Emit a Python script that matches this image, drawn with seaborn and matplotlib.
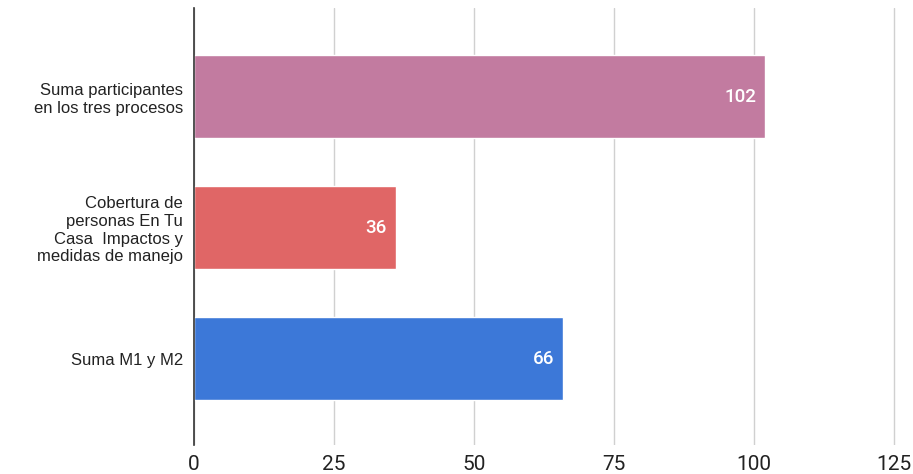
import matplotlib
matplotlib.use("Agg")
import matplotlib.pyplot as plt
import seaborn as sns
import pandas as pd

categories = [
    "Suma participantes\nen los tres procesos",
    "Cobertura de\npersonas En Tu\nCasa  Impactos y\nmedidas de manejo",
    "Suma M1 y M2",
]
values = [102, 36, 66]
colors = ["#c27ba0", "#e06666", "#3c78d8"]
x_ticks = [0, 25, 50, 75, 100, 125]

df = pd.DataFrame({"cat": categories, "val": values})

sns.set_theme(style="white")
plt.rcParams["font.family"] = ["Liberation Sans", "DejaVu Sans"]

fig = plt.figure(figsize=(9.13, 4.74), dpi=100)
ax = fig.add_axes([0.2125, 0.061, 0.77, 0.922])

sns.barplot(data=df, y="cat", x="val", hue="cat", palette=colors,
            orient="h", width=0.63, legend=False, ax=ax, saturation=1)

for i, v in enumerate(values):
    ax.annotate(str(v), xy=(v, i), xytext=(-6.5, 0), textcoords="offset points",
                ha="right", va="center", color="white", fontsize=13.5,
                family="Roboto", fontweight="medium")

ax.set_xlim(0, 125.6)
ax.set_ylim(len(categories) - 1 + 0.66, -0.676)
ax.set_xticks(x_ticks)
ax.set_xticklabels([str(t) for t in x_ticks], family="Roboto", fontsize=15, color="#222222")
ax.tick_params(axis="y", labelsize=12, length=0, pad=8, labelcolor="#222222")
ax.tick_params(axis="x", length=0, pad=7)
for lbl in ax.get_yticklabels():
    lbl.set_multialignment("right")
    lbl.set_linespacing(1.22)
ax.set_xlabel("")
ax.set_ylabel("")
ax.grid(axis="x", color="#d0d0d0", linewidth=1)
ax.set_axisbelow(True)
for s in ["top", "right", "bottom"]:
    ax.spines[s].set_visible(False)
ax.spines["left"].set_color("#333333")
ax.spines["left"].set_linewidth(1.2)
ax.spines["left"].set_zorder(5)

fig.savefig("out.png", dpi=100, facecolor="white")
